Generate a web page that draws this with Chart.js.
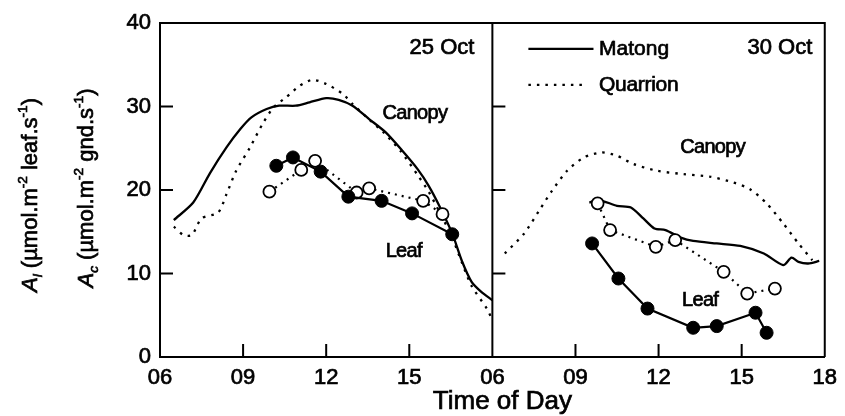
<!DOCTYPE html>
<html>
<head>
<meta charset="utf-8">
<script src="https://cdn.jsdelivr.net/npm/chart.js@4.4.1/dist/chart.umd.min.js"></script>
<style>
  html, body { margin: 0; padding: 0; background: #fff; }
  #wrap { width: 845px; height: 416px; }
</style>
</head>
<body>
<div id="wrap"><canvas id="c" width="845" height="416"></canvas></div>
<script>
// Two panels (25 Oct, 30 Oct), each 06..18 h. Left panel is shifted -6, right +6 on one 0..24 axis.
const xTickValues = [0, 3, 6, 9, 12, 15, 18, 21, 24];
const xTickLabels = ['06', '09', '12', '15', '06', '09', '12', '15', '18'];
const yTickValues = [0, 10, 20, 30, 40];

// 25 Oct
const matCanL_t = [6.5, 7.2, 7.8, 8.4, 8.9, 9.3, 9.85, 10.3, 10.9, 11.4, 12.0, 12.45, 12.95, 13.55, 14.15, 14.75, 15.3, 15.7, 16.1, 16.55, 16.9, 17.25, 17.6, 18.0];
const matCanL_v = [16.4, 18.5, 22.0, 25.1, 27.3, 28.7, 29.7, 30.1, 30.1, 30.5, 31.0, 30.8, 30.1, 28.5, 26.9, 24.7, 22.5, 20.5, 18.0, 14.8, 11.5, 9.0, 7.8, 6.8];
const quaCanL_t = [6.5, 6.85, 7.15, 7.5, 8.1, 8.4, 8.75, 9.25, 9.7, 10.1, 10.55, 11.05, 11.5, 12.0, 12.6, 12.95, 13.5, 14.1, 14.7, 15.3, 15.7, 16.1, 16.55, 16.9, 17.25, 17.8, 18.0];
const quaCanL_v = [15.6, 14.6, 14.6, 16.6, 17.3, 19.5, 22.3, 25.1, 27.9, 29.9, 31.1, 32.5, 33.2, 32.7, 31.5, 30.3, 28.6, 26.8, 24.6, 21.8, 19.8, 17.3, 14.3, 11.3, 8.5, 5.8, 4.4];
const matLeafL_t = [10.2, 10.8, 11.8, 12.8, 14.0, 15.1, 16.55];
const matLeafL_v = [22.9, 23.9, 22.2, 19.2, 18.7, 17.2, 14.7];
const quaLeafL_t = [9.95, 11.1, 11.6, 13.1, 13.55, 15.5, 16.2];
const quaLeafL_v = [19.8, 22.4, 23.5, 19.7, 20.2, 18.7, 17.1];

// 30 Oct
const quaCanR_t = [6.45, 7.15, 7.7, 8.15, 8.7, 9.3, 9.95, 10.5, 11.1, 11.95, 12.9, 13.85, 14.7, 15.3, 15.9, 16.5, 17.05, 17.55];
const quaCanR_v = [12.4, 14.8, 17.6, 19.9, 22.3, 23.9, 24.5, 24.1, 23.1, 22.3, 21.9, 21.6, 20.9, 20.1, 18.4, 16.0, 13.6, 11.6];
const matCanR_t = [9.5, 9.85, 10.5, 11.0, 11.45, 11.85, 12.25, 12.8, 13.25, 14.1, 14.95, 15.8, 16.5, 16.8, 17.05, 17.4, 17.8];
const matCanR_v = [18.5, 18.8, 18.1, 17.9, 16.6, 15.4, 15.2, 14.3, 13.9, 13.6, 13.3, 12.4, 11.0, 11.9, 11.4, 11.2, 11.5];
const matLeafR_t = [9.6, 10.55, 11.6, 13.25, 14.1, 15.5, 15.9];
const matLeafR_v = [13.6, 9.4, 5.8, 3.5, 3.7, 5.3, 2.9];
const quaLeafR_t = [9.8, 10.25, 11.9, 12.6, 14.35, 15.2, 16.2];
const quaLeafR_v = [18.4, 15.2, 13.2, 14.0, 10.2, 7.6, 8.2];

const OFF_L = -6, OFF_R = 6;
const FONT = "'Liberation Sans', Arial, Helvetica, sans-serif";
const INK = 0.7; // scanned text looks heavier, so stroke it a little

function pts(ts, vs, off) {
  return ts.map(function (t, i) { return { x: t + off, y: vs[i] }; });
}

const DOT = [2.5, 6];

function solid(data) {
  return { data: data, borderColor: '#000', borderWidth: 2.3, pointRadius: 0, tension: 0.25, fill: false };
}
function dotted(data) {
  return { data: data, borderColor: '#000', borderWidth: 2.3, borderDash: DOT, pointRadius: 0, tension: 0.25, fill: false };
}
function leafFilled(data) {
  return { data: data, borderColor: '#000', borderWidth: 2.2, tension: 0, fill: false,
    pointRadius: 6.5, pointBackgroundColor: '#000', pointBorderColor: '#000', pointBorderWidth: 1 };
}
function leafOpen(data) {
  return { data: data, borderColor: '#000', borderWidth: 2.2, borderDash: [2, 5], tension: 0, fill: false,
    pointRadius: 6, pointBackgroundColor: '#fff', pointBorderColor: '#000', pointBorderWidth: 1.8 };
}

// text anchored in data units
const notes = [
  { text: '25 Oct', x: 11.35, y: 37.0, align: 'right', size: 22, ls: 0 },
  { text: '30 Oct', x: 23.55, y: 37.0, align: 'right', size: 22, ls: 0 },
  { text: 'Matong', x: 15.85, y: 36.9, align: 'left', size: 21, ls: 0 },
  { text: 'Quarrion', x: 15.85, y: 32.6, align: 'left', size: 21, ls: -0.3 },
  { text: 'Canopy', x: 9.2, y: 29.2, align: 'center', size: 20, ls: -0.7 },
  { text: 'Leaf', x: 8.8, y: 12.6, align: 'center', size: 20, ls: -0.7 },
  { text: 'Canopy', x: 19.95, y: 25.1, align: 'center', size: 20, ls: -0.7 },
  { text: 'Leaf', x: 19.5, y: 6.8, align: 'center', size: 20, ls: -0.7 }
];

function inkText(ctx, s, px, py) {
  ctx.fillText(s, px, py);
  ctx.strokeText(s, px, py);
}

function richLine(ctx, parts, cx, cy, size) {
  let w = 0;
  parts.forEach(function (p) {
    const s = p.sub || p.sup ? size * 0.62 : size;
    p.font = (p.it ? 'italic ' : '') + s + 'px ' + FONT;
    ctx.font = p.font;
    p.w = ctx.measureText(p.t).width;
    w += p.w;
  });
  ctx.save();
  ctx.translate(cx, cy);
  ctx.rotate(-Math.PI / 2);
  ctx.textBaseline = 'alphabetic';
  let xx = -w / 2;
  parts.forEach(function (p) {
    ctx.font = p.font;
    const dy = p.sub ? size * 0.25 : p.sup ? -size * 0.45 : 0;
    inkText(ctx, p.t, xx, size * 0.36 + dy);
    xx += p.w;
  });
  ctx.restore();
}

const decor = {
  id: 'decor',
  beforeDatasetsDraw(chart) {
    const ctx = chart.ctx, a = chart.chartArea, x = chart.scales.x, y = chart.scales.y;
    const mid = x.getPixelForValue(12);
    ctx.save();
    ctx.strokeStyle = '#000';
    ctx.lineWidth = 2;
    ctx.beginPath();
    ctx.moveTo(a.left, a.top); ctx.lineTo(a.right, a.top); ctx.lineTo(a.right, a.bottom);
    ctx.moveTo(mid, a.top); ctx.lineTo(mid, a.bottom);
    [10, 20, 30].forEach(function (v) {
      const py = y.getPixelForValue(v);
      ctx.moveTo(a.left, py); ctx.lineTo(a.left + 13, py);
      ctx.moveTo(mid, py); ctx.lineTo(mid + 13, py);
    });
    [3, 6, 9, 15, 18, 21].forEach(function (v) {
      const px = x.getPixelForValue(v);
      ctx.moveTo(px, a.bottom); ctx.lineTo(px, a.bottom - 13);
    });
    ctx.stroke();
    ctx.restore();
  },
  afterDatasetsDraw(chart) {
    const ctx = chart.ctx, x = chart.scales.x, y = chart.scales.y, a = chart.chartArea;
    ctx.save();
    ctx.fillStyle = '#000';
    ctx.strokeStyle = '#000';
    ctx.lineWidth = INK;
    ctx.textBaseline = 'middle';
    notes.forEach(function (n) {
      ctx.font = n.size + 'px ' + FONT;
      ctx.textAlign = n.align;
      ctx.letterSpacing = n.ls + 'px';
      inkText(ctx, n.text, x.getPixelForValue(n.x), y.getPixelForValue(n.y));
    });
    ctx.letterSpacing = '0px';
    // legend samples
    ctx.lineWidth = 2.3;
    ctx.beginPath();
    ctx.moveTo(x.getPixelForValue(13.3), y.getPixelForValue(36.9));
    ctx.lineTo(x.getPixelForValue(15.65), y.getPixelForValue(36.9));
    ctx.stroke();
    ctx.setLineDash(DOT);
    ctx.beginPath();
    ctx.moveTo(x.getPixelForValue(13.3), y.getPixelForValue(32.6));
    ctx.lineTo(x.getPixelForValue(15.4), y.getPixelForValue(32.6));
    ctx.stroke();
    ctx.setLineDash([]);
    ctx.lineWidth = INK;
    // x title
    ctx.font = '26px ' + FONT;
    ctx.textAlign = 'center';
    inkText(ctx, 'Time of Day', x.getPixelForValue(12) + 10, 402);
    // y titles
    ctx.textAlign = 'left';
    const cy = (a.top + a.bottom) / 2;
    richLine(ctx, [
      { t: 'A', it: true }, { t: 'l', it: true, sub: true }, { t: ' (\u00b5mol.m' }, { t: '-2', sup: true },
      { t: ' leaf.s' }, { t: '-1', sup: true }, { t: ')' }
    ], 29, cy + 5, 22);
    richLine(ctx, [
      { t: 'A', it: true }, { t: 'c', it: true, sub: true }, { t: ' (\u00b5mol.m' }, { t: '-2', sup: true },
      { t: ' gnd.s' }, { t: '-1', sup: true }, { t: ')' }
    ], 85, cy - 2, 22);
    ctx.restore();
  }
};

new Chart(document.getElementById('c'), {
  type: 'line',
  data: {
    datasets: [
      leafFilled(pts(matLeafL_t, matLeafL_v, OFF_L)),
      leafOpen(pts(quaLeafL_t, quaLeafL_v, OFF_L)),
      leafFilled(pts(matLeafR_t, matLeafR_v, OFF_R)),
      leafOpen(pts(quaLeafR_t, quaLeafR_v, OFF_R)),
      solid(pts(matCanL_t, matCanL_v, OFF_L)),
      dotted(pts(quaCanL_t, quaCanL_v, OFF_L)),
      solid(pts(matCanR_t, matCanR_v, OFF_R)),
      dotted(pts(quaCanR_t, quaCanR_v, OFF_R))
    ]
  },
  options: {
    responsive: false,
    animation: false,
    devicePixelRatio: 1,
    layout: { padding: { top: 23, right: 16, left: 0, bottom: 0 } },
    plugins: { legend: { display: false }, tooltip: { enabled: false } },
    scales: {
      x: {
        type: 'linear', min: 0, max: 24,
        afterBuildTicks: function (s) { s.ticks = xTickValues.map(function (v) { return { value: v }; }); },
        afterFit: function (s) { s.height = 59; },
        ticks: {
          color: '#000', padding: 8, maxRotation: 0, autoSkip: false,
          textStrokeColor: '#000', textStrokeWidth: INK,
          font: { family: FONT, size: 22 },
          callback: function (v) { return xTickLabels[xTickValues.indexOf(v)]; }
        },
        grid: { display: false, drawTicks: false },
        border: { display: true, color: '#000', width: 2 }
      },
      y: {
        min: 0, max: 40,
        afterBuildTicks: function (s) { s.ticks = yTickValues.map(function (v) { return { value: v }; }); },
        afterFit: function (s) { s.width = 160; },
        ticks: { color: '#000', padding: 9, textStrokeColor: '#000', textStrokeWidth: INK, font: { family: FONT, size: 22 } },
        grid: { display: false, drawTicks: false },
        border: { display: true, color: '#000', width: 2 }
      }
    }
  },
  plugins: [decor]
});
</script>
</body>
</html>
